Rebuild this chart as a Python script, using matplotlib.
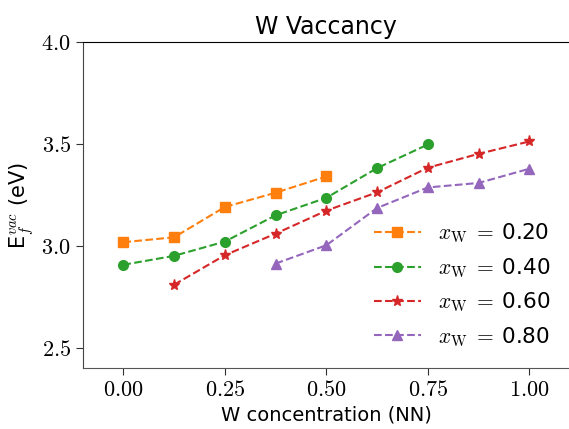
import matplotlib
matplotlib.use("Agg")
import matplotlib.pyplot as plt
from matplotlib.ticker import FuncFormatter

plt.rcParams['mathtext.fontset'] = 'cm'
plt.rcParams['font.family'] = ['DejaVu Sans']

# W concentration (NN) for each series
x_020 = [0.0, 0.125, 0.25, 0.375, 0.5]
x_040 = [0.0, 0.125, 0.25, 0.375, 0.5, 0.625, 0.75]
x_060 = [0.125, 0.25, 0.375, 0.5, 0.625, 0.75, 0.875, 1.0]
x_080 = [0.375, 0.5, 0.625, 0.75, 0.875, 1.0]

# vacancy formation energies (eV)
e_020 = [3.018, 3.042, 3.191, 3.261, 3.341]
e_040 = [2.907, 2.951, 3.021, 3.150, 3.236, 3.382, 3.498]
e_060 = [2.809, 2.954, 3.060, 3.173, 3.263, 3.384, 3.452, 3.513]
e_080 = [2.913, 3.003, 3.186, 3.287, 3.309, 3.379]

labels = ['0.20', '0.40', '0.60', '0.80']
xticks = [0.0, 0.25, 0.5, 0.75, 1.0]
yticks = [2.5, 3.0, 3.5, 4.0]

fig = plt.figure(figsize=(5.69, 4.29), dpi=100)
ax = fig.add_axes([82.7 / 569, 61 / 429, 487.3 / 569, 325.7 / 429])

series = [
    (x_020, e_020, 'tab:orange', 's', 7),
    (x_040, e_040, 'tab:green', 'o', 7),
    (x_060, e_060, 'tab:red', '*', 8),
    (x_080, e_080, 'tab:purple', '^', 7.5),
]
for (xs, ys, c, m, ms), lab in zip(series, labels):
    ax.plot(xs, ys, '--', color=c, marker=m, markersize=ms, linewidth=1.5,
            label=r'$x_{\rm W}\;=\;$' + lab)

ax.set_xlim(-0.1, 1.1)
ax.set_ylim(2.4, 4.0)
ax.set_xticks(xticks)
ax.set_yticks(yticks)
ax.xaxis.set_major_formatter(FuncFormatter(lambda v, p: f'${v:.2f}$'))
ax.yaxis.set_major_formatter(FuncFormatter(lambda v, p: f'${v:.1f}$'))
ax.tick_params(labelsize=16, length=5, color='#333333')

ax.spines['right'].set_visible(False)
ax.spines['top'].set_color('black')
ax.spines['left'].set_color('#444444')
ax.spines['bottom'].set_color('#555555')

ax.set_title('W Vaccancy', fontsize=17)
ax.set_xlabel('W concentration (NN)', fontsize=14)
ax.set_ylabel(r'E$_f^{vac}$ (eV)', fontsize=15)

ax.legend(loc='lower right', frameon=False, fontsize=15.5, handlelength=2.2,
          labelspacing=0.5, bbox_to_anchor=(1.0, 0.0))

fig.savefig('out.png', dpi=100)
